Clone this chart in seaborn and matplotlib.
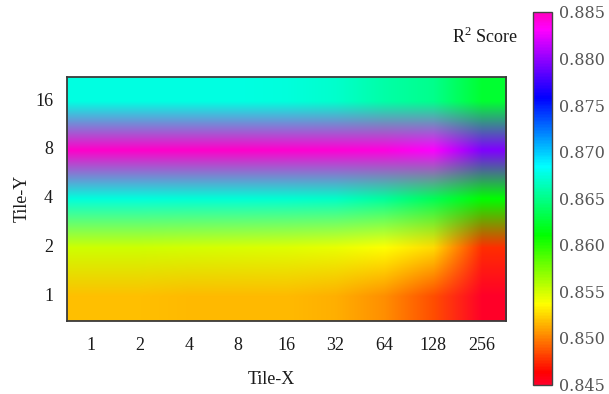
import numpy as np
import pandas as pd
import matplotlib
matplotlib.use("Agg")
import matplotlib.pyplot as plt
import seaborn as sns

# Tile sizes along each axis
tile_x = ["1", "2", "4", "8", "16", "32", "64", "128", "256"]
tile_y = ["16", "8", "4", "2", "1"]  # top to bottom

# R^2 score for each (Tile-Y, Tile-X) combination
r2_ty16 = [0.8676, 0.8676, 0.8676, 0.8675, 0.8674, 0.8670, 0.8659, 0.8650, 0.8624]
r2_ty8 = [0.8846, 0.8846, 0.8846, 0.8846, 0.8845, 0.8843, 0.8840, 0.8830, 0.8795]
r2_ty4 = [0.8674, 0.8674, 0.8673, 0.8672, 0.8671, 0.8668, 0.8655, 0.8635, 0.8610]
r2_ty2 = [0.8550, 0.8550, 0.8549, 0.8548, 0.8546, 0.8543, 0.8536, 0.8525, 0.8476]
r2_ty1 = [0.8518, 0.8518, 0.8517, 0.8517, 0.8516, 0.8513, 0.8504, 0.8485, 0.8448]

cbar_ticks = [0.845, 0.850, 0.855, 0.860, 0.865, 0.870, 0.875, 0.880, 0.885]
vmin, vmax = 0.845, 0.885

scores = pd.DataFrame([r2_ty16, r2_ty8, r2_ty4, r2_ty2, r2_ty1],
                      index=tile_y, columns=tile_x)

sns.set_style("white")
plt.rcParams["font.family"] = ["Liberation Serif", "DejaVu Serif"]
plt.rcParams["mathtext.fontset"] = "custom"
plt.rcParams["mathtext.rm"] = "Liberation Serif"

fig = plt.figure(figsize=(6.09, 3.94), dpi=100)
ax = fig.add_axes([0.110, 0.186, 0.721, 0.619])
cax = fig.add_axes([0.875, 0.024, 0.031, 0.946])

cmap = "gist_rainbow"
sns.heatmap(scores, ax=ax, cbar_ax=cax, cmap=cmap, vmin=vmin, vmax=vmax)

# smooth, colour-blended rendering of the same grid on top of the cells
ax.imshow(scores.values, cmap=cmap, vmin=vmin, vmax=vmax,
          extent=(0, len(tile_x), len(tile_y), 0), origin="upper",
          interpolation="bilinear", interpolation_stage="rgba",
          aspect="auto", zorder=2)
ax.set_xlim(0, len(tile_x))
ax.set_ylim(len(tile_y), 0)

for s in ax.spines.values():
    s.set_visible(True)
    s.set_color("#3a3a3a")
    s.set_linewidth(1.3)
    s.set_zorder(3)

ax.tick_params(axis="both", length=0, labelsize=13, colors="#1a1a1a")
ax.tick_params(axis="x", pad=12, rotation=0)
ax.tick_params(axis="y", pad=10, rotation=0)
ax.set_xlabel("Tile-X", fontsize=13, color="#1a1a1a")
ax.set_ylabel("Tile-Y", fontsize=13, color="#1a1a1a")
ax.xaxis.set_label_coords(0.465, -0.205)
ax.yaxis.set_label_coords(-0.082, 0.5)

cbar = ax.collections[0].colorbar
cbar.outline.set_edgecolor("#444444")
cbar.outline.set_linewidth(1.0)
cax.set_yticks(cbar_ticks, labels=[f"{t:.3f}" for t in cbar_ticks],
               fontfamily="DejaVu Serif", fontsize=11.5, color="#555555")
cax.tick_params(length=0, pad=5)

fig.text(0.797, 0.906, r"R$^{\mathrm{2}}$ Score", ha="center", va="center",
         fontsize=13, color="#1a1a1a")

fig.savefig("out.png", dpi=100)
